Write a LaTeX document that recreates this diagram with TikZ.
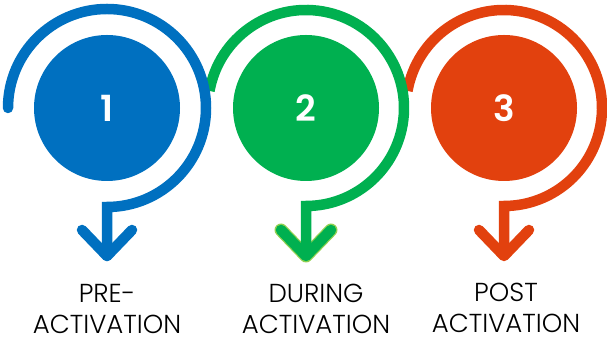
\documentclass[tikz,border=0pt]{standalone}
\usepackage{fontspec}
\setmainfont{Poppins}[UprightFont=* Light, BoldFont=* SemiBold]
\definecolor{pblue}{HTML}{0070C0}
\definecolor{pgreen}{HTML}{00B050}
\definecolor{pgreenlight}{HTML}{92D050}
\definecolor{pred}{HTML}{E2410E}

\begin{document}
\begin{tikzpicture}[x=1pt,y=1pt,
    disc/.style={circle, fill=#1, minimum size=146pt, inner sep=0pt,
        text=white, font=\fontsize{36}{36}\selectfont\bfseries},
    ring/.style={draw=#1, line width=10.5pt},
    chevron/.style={draw=#1, line width=10.5pt, line cap=round, line join=round},
    phase/.style={align=center, anchor=south, inner sep=0pt,
        font=\fontsize{26}{31}\selectfont}]
    \useasboundingbox (0,0) rectangle (607,344);

    \node[disc=pred] (c3) at (504,236) {3};
    \node[disc=pgreen] (c2) at (306,236) {2};
    \node[disc=pblue] (c1) at (107,236) {1};

    \path (c1.center) ++(0,-148) coordinate (t1);
    \path (c2.center) ++(0,-148) coordinate (t2);
    \path (c3.center) ++(0,-148) coordinate (t3);

    % rings, right to left so that each lies over the next one
    \draw[ring=pred] (c3.center) ++(170:98) arc[start angle=170, end angle=-90, radius=98] -- (t3);
    \draw[chevron=pred] (t3) ++(-25,26) -- (t3) -- ++(25,26);

    \draw[chevron=pgreenlight, line width=13pt] (t2) ++(-25,26) -- (t2) -- ++(25,26);
    \draw[ring=pgreen] (c2.center) ++(170:98) arc[start angle=170, end angle=-90, radius=98] -- (t2);
    \draw[chevron=pgreen] (t2) ++(-25,26) -- (t2) -- ++(25,26);

    \draw[ring=pblue, line cap=round] (c1.center) ++(180:99) arc[start angle=180, end angle=-90, radius=99] -- (t1);
    \draw[chevron=pblue] (t1) ++(-25,26) -- (t1) -- ++(25,26);

    \node[phase] (l1) at (107,10) {PRE-\\ACTIVATION};
    \node[phase] (l2) at (316,10) {DURING\\ACTIVATION};
    \node[phase] (l3) at (506,11) {POST\\ACTIVATION};
\end{tikzpicture}
\end{document}
